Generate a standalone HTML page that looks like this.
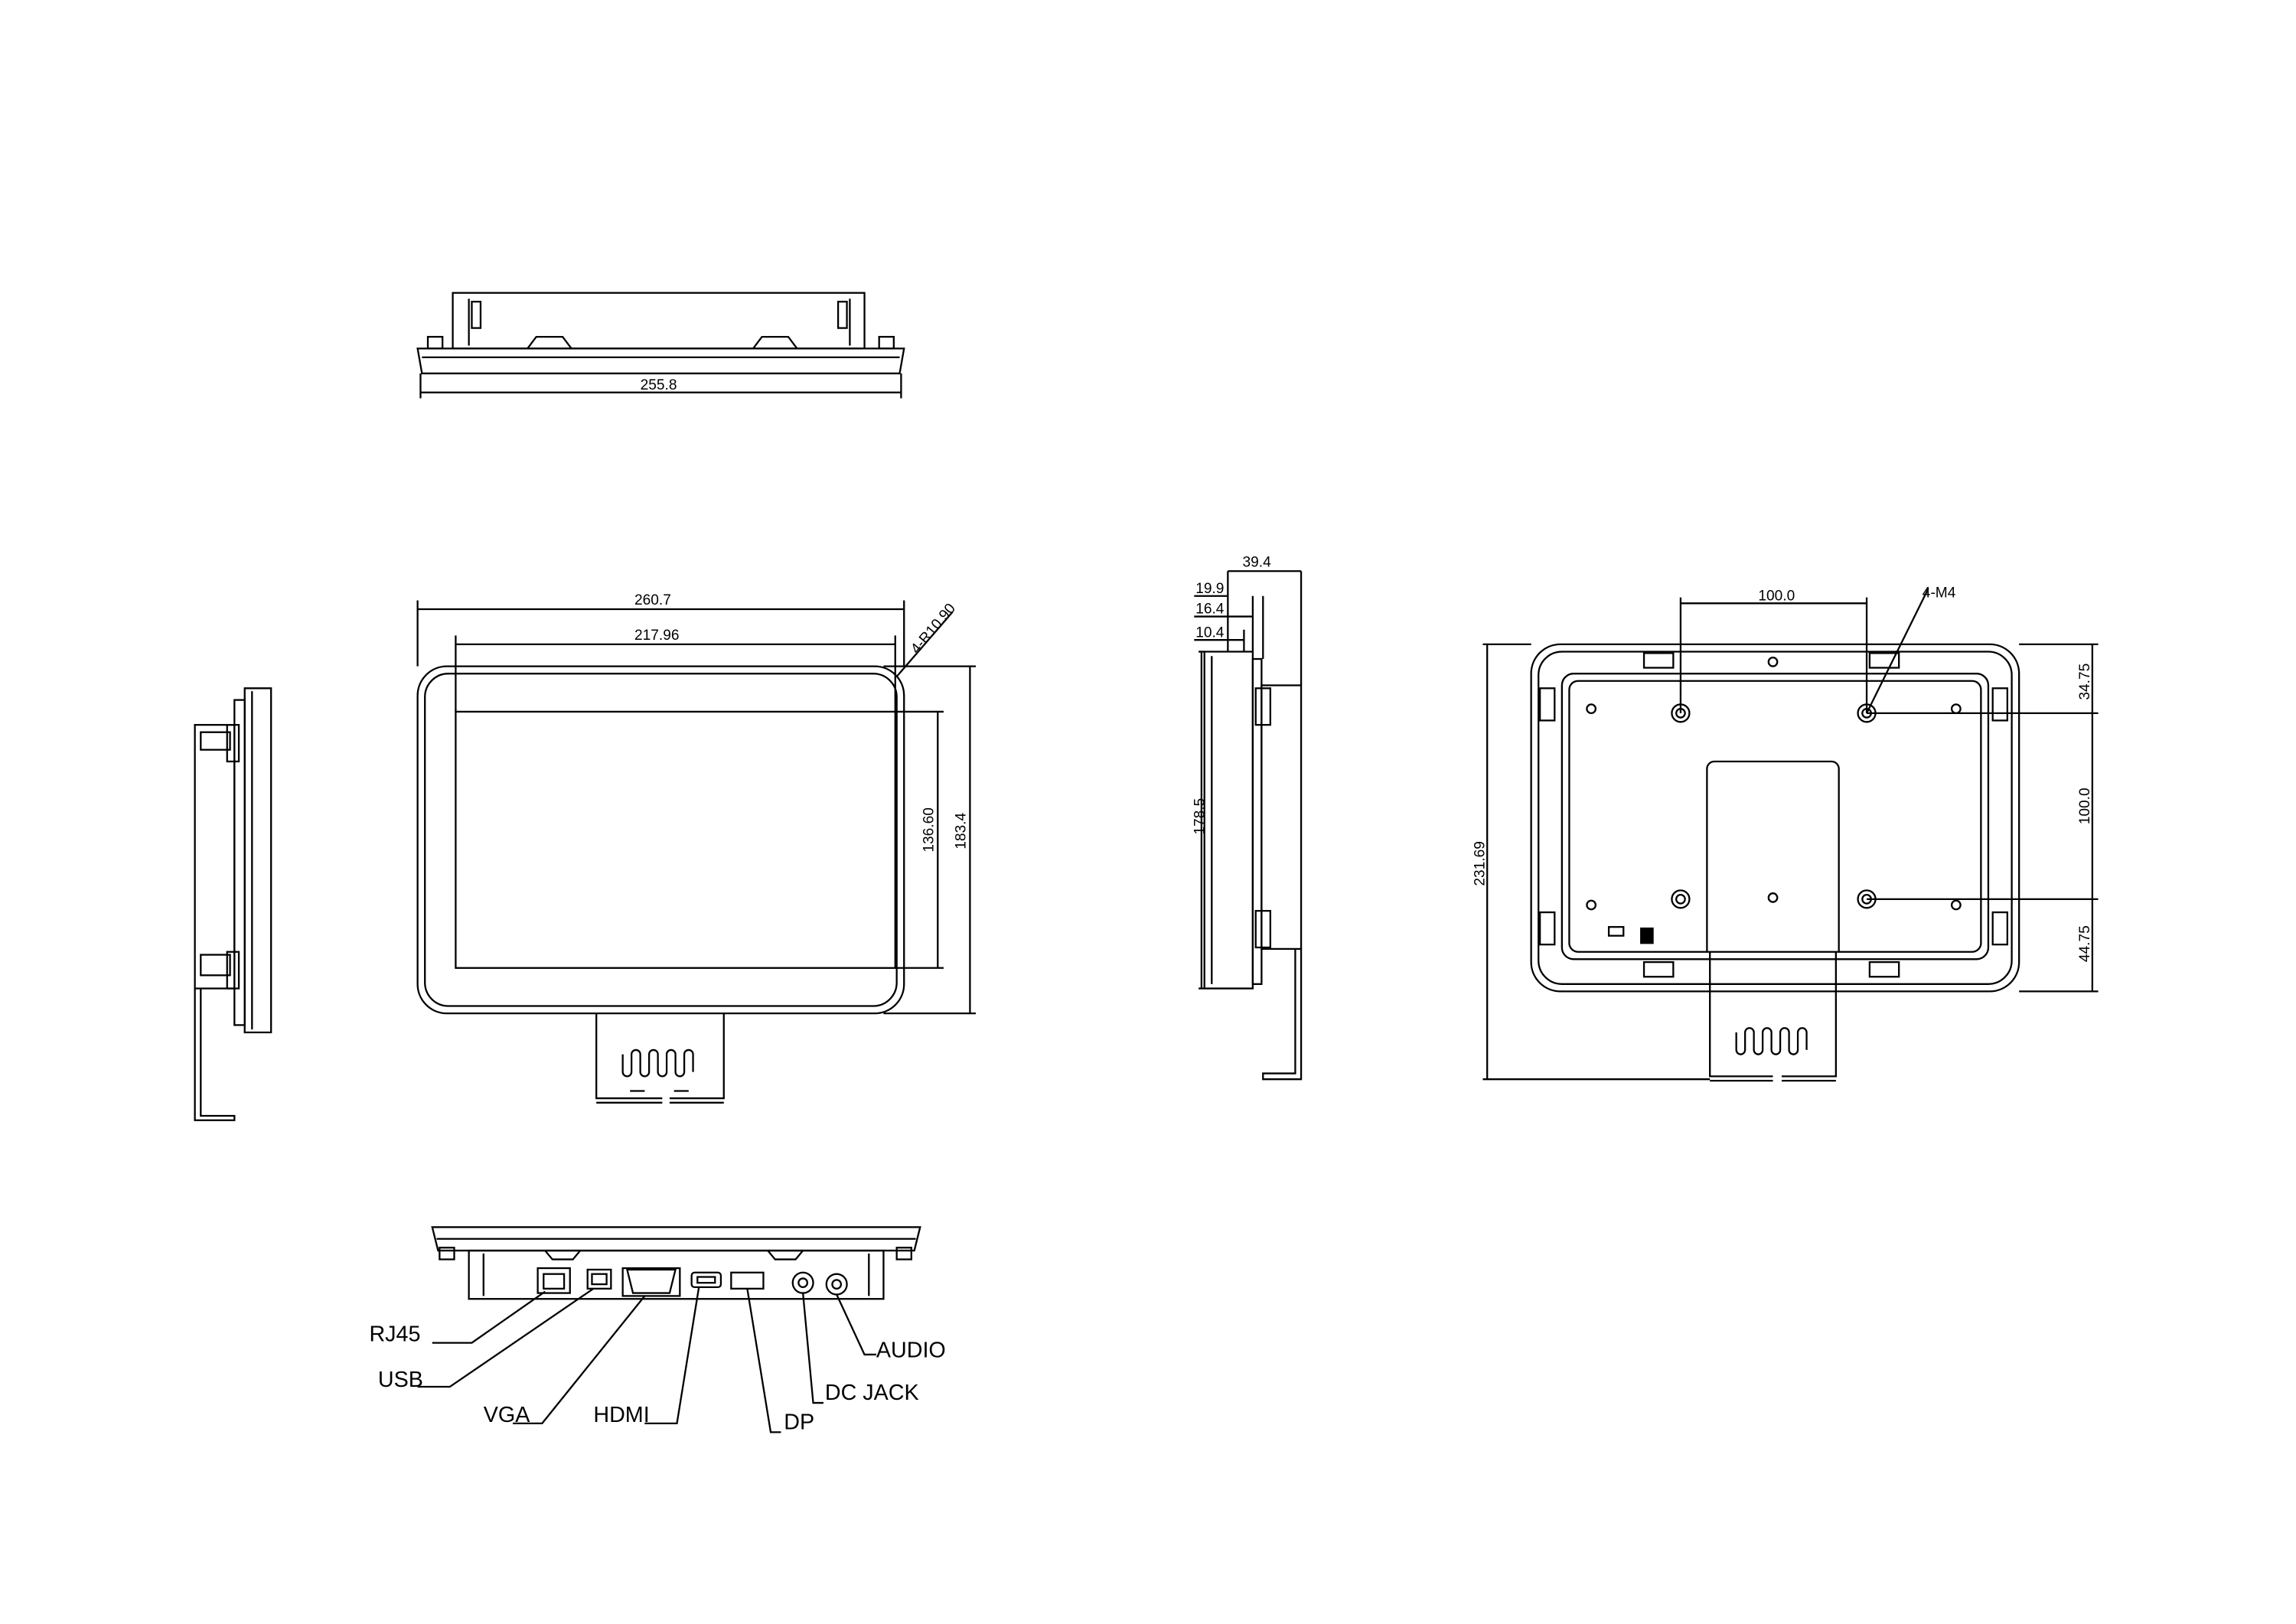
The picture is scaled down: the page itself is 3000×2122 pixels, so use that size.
<!DOCTYPE html>
<html><head><meta charset="utf-8"><style>html,body{margin:0;padding:0;background:#fff}svg{display:block}</style></head>
<body>
<svg width="3000" height="2122" viewBox="0 0 1567 1109" preserveAspectRatio="none" xmlns="http://www.w3.org/2000/svg" font-family="Liberation Sans, sans-serif" fill="none" stroke="#000" stroke-width="1.2">
<rect x="0" y="0" width="1567" height="1109" fill="#fff" stroke="none"/>

<!-- TOP VIEW -->
<rect x="309" y="200" width="281" height="38"/>
<line x1="320" y1="204" x2="320" y2="236"/><line x1="580" y1="204" x2="580" y2="236"/>
<rect x="322" y="206" width="6" height="18"/><rect x="572" y="206" width="6" height="18"/>
<path d="M360 238 l6 -8 h18 l6 8 M514 238 l6 -8 h18 l6 8"/>
<path d="M285 238 H617 L614 255 H288 Z"/>
<line x1="288" y1="244" x2="614" y2="244"/>
<rect x="292" y="230" width="10" height="8"/><rect x="600" y="230" width="10" height="8"/>
<line x1="287" y1="255" x2="287" y2="272"/><line x1="615" y1="255" x2="615" y2="272"/>
<line x1="287" y1="268" x2="615" y2="268"/>
<text x="437" y="266" font-size="10" fill="#000" stroke="none">255.8</text>

<!-- FRONT VIEW -->
<rect x="285" y="455" width="332" height="237" rx="20"/>
<rect x="290" y="460" width="322" height="227" rx="16"/>
<rect x="311" y="486" width="300" height="175"/>
<line x1="285" y1="410" x2="285" y2="455"/><line x1="617" y1="410" x2="617" y2="455"/>
<line x1="285" y1="416" x2="617" y2="416"/>
<text x="433" y="413" font-size="10" fill="#000" stroke="none">260.7</text>
<line x1="311" y1="434" x2="311" y2="486"/><line x1="611" y1="434" x2="611" y2="486"/>
<line x1="311" y1="440" x2="611" y2="440"/>
<text x="433" y="437" font-size="10" fill="#000" stroke="none">217.96</text>
<line x1="603" y1="455" x2="666" y2="455"/><line x1="603" y1="692" x2="666" y2="692"/>
<line x1="662" y1="455" x2="662" y2="692"/>
<text x="0" y="0" font-size="10" fill="#000" stroke="none" transform="translate(659 580) rotate(-90)">183.4</text>
<line x1="611" y1="486" x2="644" y2="486"/><line x1="611" y1="661" x2="644" y2="661"/>
<line x1="640" y1="486" x2="640" y2="661"/>
<text x="0" y="0" font-size="10" fill="#000" stroke="none" transform="translate(637 582) rotate(-90)">136.60</text>
<line x1="612" y1="462" x2="650" y2="418"/>
<text x="0" y="0" font-size="10" fill="#000" stroke="none" transform="translate(626 447) rotate(-50)">4-R10.90</text>
<path d="M407 692 V750 H452 M457 750 H494 V692"/>
<line x1="407" y1="753" x2="452" y2="753"/><line x1="457" y1="753" x2="494" y2="753"/>
<path d="M425 720 v12 a3 3 0 0 0 6 0 v-12 a3 3 0 0 1 6 0 v12 a3 3 0 0 0 6 0 v-12 a3 3 0 0 1 6 0 v12 a3 3 0 0 0 6 0 v-12 a3 3 0 0 1 6 0 v12 a3 3 0 0 0 6 0 v-12 a3 3 0 0 1 6 0 v12"/>
<line x1="430" y1="745" x2="440" y2="745"/><line x1="460" y1="745" x2="470" y2="745"/>

<!-- LEFT SIDE VIEW -->
<path d="M167 470 H185 V705 H167 Z"/>
<line x1="172" y1="472" x2="172" y2="703"/>
<rect x="160" y="478" width="7" height="222"/>
<rect x="133" y="495" width="27" height="180"/>
<rect x="137" y="500" width="20" height="12"/><rect x="137" y="652" width="20" height="14"/>
<rect x="155" y="495" width="8" height="25"/><rect x="155" y="650" width="8" height="25"/>
<path d="M133 675 V765 H160 V762 H137 V675"/>

<!-- RIGHT SIDE VIEW -->
<path d="M822 445 H855 V675 H822 Z"/>
<line x1="827" y1="448" x2="827" y2="672"/>
<rect x="855" y="450" width="6" height="222"/>
<rect x="861" y="468" width="27" height="180"/>
<rect x="857" y="470" width="10" height="25"/><rect x="857" y="622" width="10" height="25"/>
<path d="M884 648 V733 H862 V737 H888 V648"/>
<line x1="838" y1="390" x2="838" y2="445"/>
<line x1="888" y1="390" x2="888" y2="468"/>
<line x1="838" y1="390" x2="888" y2="390"/>
<text x="848" y="387" font-size="10" fill="#000" stroke="none">39.4</text>
<line x1="815" y1="407" x2="838" y2="407"/><line x1="862" y1="407" x2="862" y2="450"/>
<text x="816" y="405" font-size="10" fill="#000" stroke="none">19.9</text>
<line x1="815" y1="421" x2="855" y2="421"/><line x1="855" y1="407" x2="855" y2="445"/>
<text x="816" y="419" font-size="10" fill="#000" stroke="none">16.4</text>
<line x1="815" y1="437" x2="849" y2="437"/><line x1="849" y1="430" x2="849" y2="445"/>
<text x="816" y="435" font-size="10" fill="#000" stroke="none">10.4</text>
<line x1="818" y1="445" x2="822" y2="445"/><line x1="818" y1="675" x2="822" y2="675"/>
<line x1="820" y1="445" x2="820" y2="675"/>
<text x="0" y="0" font-size="10" fill="#000" stroke="none" transform="translate(822 570) rotate(-90)">178.5</text>

<!-- BACK VIEW -->
<rect x="1045" y="440" width="333" height="237" rx="20"/>
<rect x="1050" y="445" width="323" height="227" rx="16"/>
<rect x="1066" y="460" width="291" height="195" rx="8"/>
<rect x="1071" y="465" width="281" height="185" rx="6"/>
<path d="M1165 650 V525 a5 5 0 0 1 5 -5 H1250 a5 5 0 0 1 5 5 V650"/>
<path d="M1167 650 V735 H1210 M1216 735 H1253 V650"/>
<line x1="1167" y1="738" x2="1210" y2="738"/><line x1="1216" y1="738" x2="1253" y2="738"/>
<path d="M1185 705 v12 a3 3 0 0 0 6 0 v-12 a3 3 0 0 1 6 0 v12 a3 3 0 0 0 6 0 v-12 a3 3 0 0 1 6 0 v12 a3 3 0 0 0 6 0 v-12 a3 3 0 0 1 6 0 v12 a3 3 0 0 0 6 0 v-12 a3 3 0 0 1 6 0 v12"/>
<g>
<circle cx="1147" cy="487" r="6"/><circle cx="1147" cy="487" r="3"/>
<circle cx="1274" cy="487" r="6"/><circle cx="1274" cy="487" r="3"/>
<circle cx="1147" cy="614" r="6"/><circle cx="1147" cy="614" r="3"/>
<circle cx="1274" cy="614" r="6"/><circle cx="1274" cy="614" r="3"/>
<circle cx="1086" cy="484" r="3"/><circle cx="1335" cy="484" r="3"/>
<circle cx="1086" cy="618" r="3"/><circle cx="1335" cy="618" r="3"/>
<circle cx="1210" cy="452" r="3"/><circle cx="1210" cy="613" r="3"/>
</g>
<rect x="1122" y="446" width="20" height="10"/><rect x="1276" y="446" width="20" height="10"/>
<rect x="1122" y="657" width="20" height="10"/><rect x="1276" y="657" width="20" height="10"/>
<rect x="1051" y="470" width="10" height="22"/><rect x="1051" y="623" width="10" height="22"/>
<rect x="1360" y="470" width="10" height="22"/><rect x="1360" y="623" width="10" height="22"/>
<rect x="1098" y="633" width="10" height="6"/><rect x="1120" y="634" width="8" height="10" fill="#000"/>
<line x1="1012" y1="440" x2="1045" y2="440"/><line x1="1012" y1="737" x2="1167" y2="737"/>
<line x1="1015" y1="440" x2="1015" y2="737"/>
<text x="0" y="0" font-size="10" fill="#000" stroke="none" transform="translate(1013 605) rotate(-90)">231.69</text>
<line x1="1147" y1="408" x2="1147" y2="487"/><line x1="1274" y1="408" x2="1274" y2="487"/>
<line x1="1147" y1="412" x2="1274" y2="412"/>
<text x="1200" y="410" font-size="10" fill="#000" stroke="none">100.0</text>
<line x1="1274" y1="487" x2="1316" y2="402"/>
<text x="1312" y="408" font-size="10" fill="#000" stroke="none">4-M4</text>
<line x1="1378" y1="440" x2="1432" y2="440"/><line x1="1274" y1="487" x2="1432" y2="487"/>
<line x1="1274" y1="614" x2="1432" y2="614"/><line x1="1378" y1="677" x2="1432" y2="677"/>
<line x1="1428" y1="440" x2="1428" y2="677"/>
<text x="0" y="0" font-size="10" fill="#000" stroke="none" transform="translate(1426 478) rotate(-90)">34.75</text>
<text x="0" y="0" font-size="10" fill="#000" stroke="none" transform="translate(1426 563) rotate(-90)">100.0</text>
<text x="0" y="0" font-size="10" fill="#000" stroke="none" transform="translate(1426 657) rotate(-90)">44.75</text>

<!-- BOTTOM VIEW -->
<path d="M295 838 H628 L624 854 H299 Z"/>
<line x1="298" y1="846" x2="625" y2="846"/>
<rect x="320" y="854" width="283" height="33"/>
<line x1="330" y1="856" x2="330" y2="885"/><line x1="593" y1="856" x2="593" y2="885"/>
<rect x="300" y="852" width="10" height="8"/><rect x="612" y="852" width="10" height="8"/>
<path d="M372 854 l5 6 h14 l5 -6 M524 854 l5 6 h14 l5 -6"/>
<rect x="367" y="866" width="22" height="17"/><rect x="371" y="870" width="14" height="10"/>
<rect x="401" y="867" width="16" height="13"/><rect x="404" y="870" width="10" height="7"/>
<path d="M428 867 H461 L457 883 H432 Z"/><rect x="425" y="866" width="39" height="19"/>
<rect x="472" y="869" width="20" height="10" rx="2"/><rect x="476" y="872" width="12" height="4"/>
<rect x="499" y="869" width="22" height="11"/>
<circle cx="548" cy="876" r="7"/><circle cx="548" cy="876" r="3"/>
<circle cx="571" cy="877" r="7"/><circle cx="571" cy="877" r="3"/>
<path d="M372 882 L322 917 H295"/>
<path d="M405 880 L307 947 H285"/>
<path d="M440 885 L370 972 H350"/>
<path d="M477 879 L462 972 H440"/>
<path d="M510 880 L526 978 H533"/>
<path d="M548 883 L555 958 H562"/>
<path d="M571 884 L590 925 H598"/>
<text x="252" y="916" font-size="15" fill="#000" stroke="none">RJ45</text>
<text x="258" y="947" font-size="15" fill="#000" stroke="none">USB</text>
<text x="330" y="971" font-size="15" fill="#000" stroke="none">VGA</text>
<text x="405" y="971" font-size="15" fill="#000" stroke="none">HDMI</text>
<text x="535" y="976" font-size="15" fill="#000" stroke="none">DP</text>
<text x="563" y="956" font-size="15" fill="#000" stroke="none">DC JACK</text>
<text x="598" y="927" font-size="15" fill="#000" stroke="none">AUDIO</text>
</svg>
</body></html>
